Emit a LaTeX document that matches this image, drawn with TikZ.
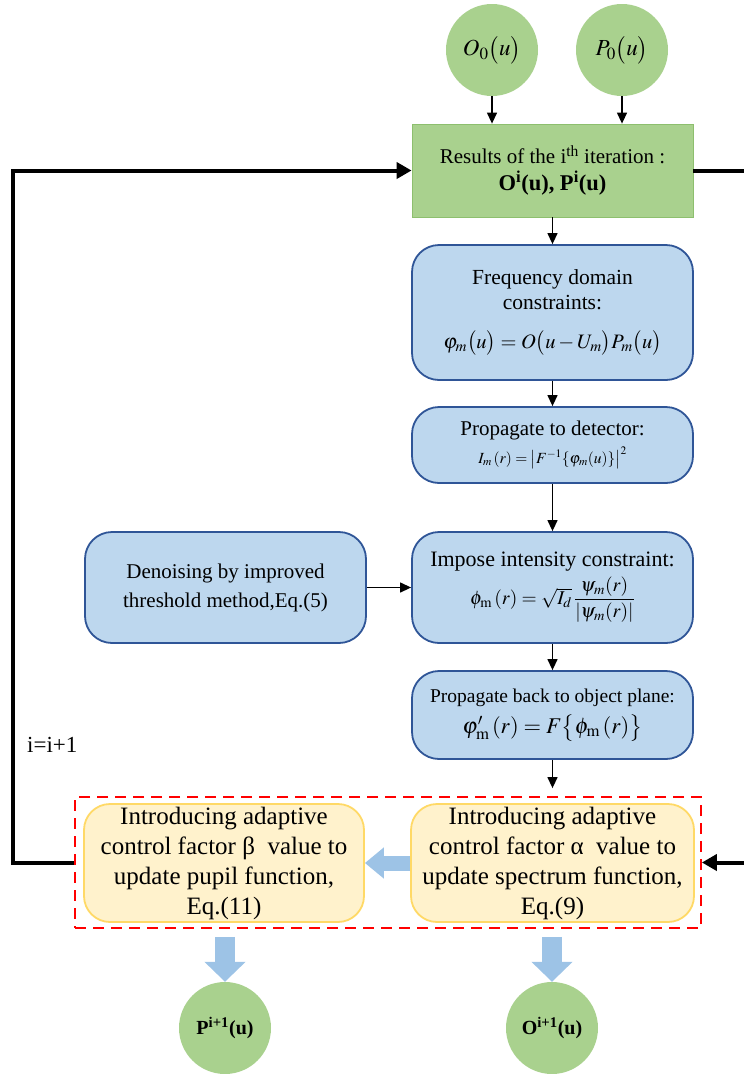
\documentclass[tikz,border=0pt]{standalone}
\usepackage{amsmath}
\usepackage{mathptmx}
\usepackage{fontspec}
\setmainfont{Liberation Serif}
\usetikzlibrary{arrows.meta,calc}
\definecolor{gfill}{HTML}{A9D18E}
\definecolor{gline}{HTML}{8DBF6E}
\definecolor{bfill}{HTML}{BDD7EE}
\definecolor{bline}{HTML}{2F5597}
\definecolor{yfill}{HTML}{FFF2CC}
\definecolor{yline}{HTML}{FFD966}
\definecolor{fatblue}{HTML}{9DC3E6}
\definecolor{dashred}{HTML}{FF0000}
\begin{document}
\begin{tikzpicture}[x=1pt,y=-1pt,
  every node/.style={inner sep=0pt, align=center, text=black},
  stage/.style={draw=bline, fill=bfill, line width=1.8pt, rounded corners=27pt, minimum width=281pt},
  update/.style={draw=yline, fill=yfill, line width=1.8pt, rounded corners=26pt, minimum height=118pt},
  seed/.style={circle, fill=gfill, minimum size=92pt},
  flow/.style={line width=1.3pt, -{Triangle[length=11pt,width=10pt]}},
  loop/.style={line width=4pt},
  loophead/.style={-{Triangle[length=15pt,width=16pt]}},
  fat/.style={draw=fatblue, line width=#1},
]
\useasboundingbox (0,0) rectangle (744,1074);

% initial guesses
\node[seed, font=\fontsize{23}{26}\selectfont] (o0) at (492,50) {$O_{\scriptstyle 0}\bigl(u\bigr)$};
\node[seed, font=\fontsize{23}{26}\selectfont] (p0) at (622,50) {$P_{\scriptstyle 0}\bigl(u\bigr)$};

% current estimate
\node[draw=gline, fill=gfill, line width=0.8pt, minimum width=281pt, minimum height=93pt, font=\fontsize{21}{25}\selectfont] (res) at (552.5,170.5)
  {Results of the i\textsuperscript{th} iteration :\\[2pt]{\fontsize{22.5}{26}\selectfont\textbf{O\textsuperscript{i}(u), P\textsuperscript{i}(u)}}};

% forward model
\node[stage, minimum height=135pt, font=\fontsize{21.5}{25}\selectfont] (freq) at (552.5,312.5)
  {Frequency domain\\constraints:\\[14pt]{\fontsize{20.5}{24}\selectfont$\varphi_m\bigl(u\bigr)=O\bigl(u-U_m\bigr)P_m\bigl(u\bigr)$}};
\node[stage, minimum height=76pt, font=\fontsize{21}{24}\selectfont] (det) at (552.5,445)
  {Propagate to detector:\\[4pt]{\fontsize{15.5}{19}\selectfont$I_m\,(r)=\bigl|F^{-1}\{\varphi_m(u)\}\bigr|^2$}};
\node[stage, minimum height=111pt, font=\fontsize{22}{25}\selectfont] (imp) at (552.5,587.5)
  {Impose intensity constraint:\\[4pt]{\fontsize{19.5}{22}\selectfont$\phi_{\mathrm m}\,(r)=\sqrt{I_d}\,\dfrac{\psi_m(r)}{|\psi_m(r)|}$}};
\node[stage, minimum height=111pt, font=\fontsize{21}{29}\selectfont] (den) at (225.5,587.5)
  {Denoising by improved\\threshold method,Eq.(5)};
\node[stage, minimum height=88pt, font=\fontsize{19.5}{23}\selectfont] (back) at (552.5,715)
  {Propagate back to object plane:\\[7pt]{\fontsize{22.5}{25}\selectfont$\varphi'_{\mathrm m}\,(r)=F\bigl\{\phi_{\mathrm m}\,(r)\bigr\}$}};

% adaptive updates
\node[update, minimum width=283pt, font=\fontsize{25}{30}\selectfont] (ya) at (552.5,863)
  {Introducing adaptive\\control factor α\ \ value to\\update spectrum function,\\Eq.(9)};
\node[update, minimum width=280pt, font=\fontsize{25}{30}\selectfont] (yb) at (224,863)
  {Introducing adaptive\\control factor β\ \ value to\\update pupil function,\\Eq.(11)};
\node[draw=dashred, line width=1.8pt, dash pattern=on 11pt off 7pt, minimum width=626pt, minimum height=131pt] (grp) at (388,862.5) {};

% new estimates
\node[seed, font=\bfseries\fontsize{20}{24}\selectfont] (pn) at (225,1028) {P\textsuperscript{i+1}(u)};
\node[seed, font=\bfseries\fontsize{20}{24}\selectfont] (on) at (552,1028) {O\textsuperscript{i+1}(u)};

% main chain
\draw[flow] (o0) -- (o0 |- res.north);
\draw[flow] (p0) -- (p0 |- res.north);
\draw[flow] (res) -- (freq);
\draw[flow] (freq) -- (det);
\draw[flow] (det) -- (imp);
\draw[flow] (den) -- (imp);
\draw[flow] (imp) -- (back);
\draw[flow, shorten >=8pt] (back.south) -- (back.south |- grp.north);

% loop back and outgoing lines
\coordinate (rout) at (744,170.5);
\coordinate (rin) at (744,862.5);
\coordinate (lcorner) at (13,862.5);
\draw[loop] (res.east) -- (rout);
\draw[loop, loophead] (rin) -- (grp.east);
\draw[loop, loophead] (grp.west) -- (lcorner) |- (res.west);
\node[font=\fontsize{23}{26}\selectfont, anchor=west] (cnt) at (27,745) {i=i+1};

% fat arrows
\draw[fat=15pt, -{Triangle[length=19pt,width=30pt]}] (ya.west) -- (yb.east);
\draw[fat=20pt, -{Triangle[length=20pt,width=40pt]}] ($(grp.south -| pn)+(0,8)$) -- (pn.north);
\draw[fat=20pt, -{Triangle[length=20pt,width=40pt]}] ($(grp.south -| on)+(0,8)$) -- (on.north);
\end{tikzpicture}
\end{document}
